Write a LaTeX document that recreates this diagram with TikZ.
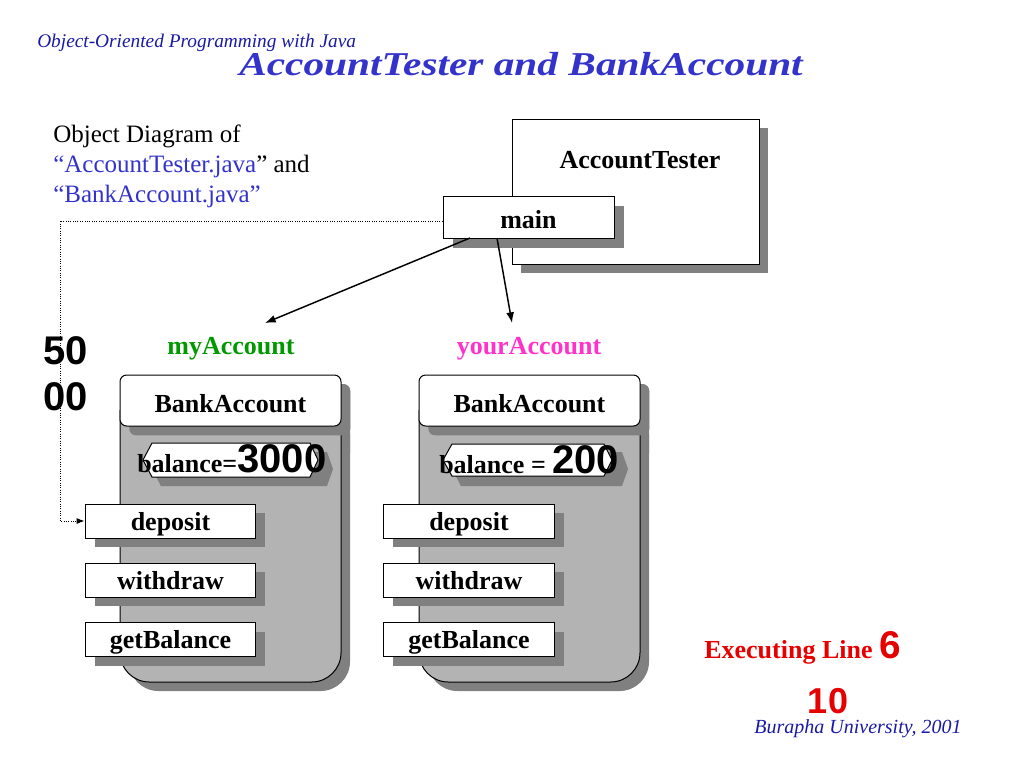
\documentclass[tikz,border=0pt]{standalone}
\usepackage{graphicx}
\usepackage{fontspec}
\setmainfont{Liberation Serif}
\newfontfamily\arial{Liberation Sans}
\usetikzlibrary{arrows.meta,shadows}
\definecolor{bodygray}{RGB}{179,179,179}
\definecolor{shadowgray}{RGB}{128,128,128}
\definecolor{titleblue}{RGB}{51,51,204}
\definecolor{subblue}{RGB}{26,26,166}
\definecolor{fileblue}{RGB}{51,51,204}
\definecolor{acgreen}{RGB}{0,153,0}
\definecolor{acmagenta}{RGB}{255,51,204}
\definecolor{exred}{RGB}{230,0,0}
\begin{document}
\begin{tikzpicture}[x=0.75pt,y=-0.75pt,
  lblfont/.style={font=\fontsize{19.5pt}{23pt}\selectfont\bfseries},
  lbl/.style={lblfont, inner sep=0pt},
  box/.style={draw=black, line width=0.75pt, fill=white, inner sep=0pt},
  shadowed/.style={drop shadow={shadow xshift=7pt, shadow yshift=-7pt, fill=shadowgray, opacity=1}},
  method/.style={box, shadowed, lblfont, minimum width=128pt, minimum height=25.5pt, text height=17.55pt, text depth=3.9pt},
  header/.style={box, shadowed, lblfont, rounded corners=5pt, minimum width=165.75pt, minimum height=38.25pt, text height=17.55pt, text depth=0pt},
  bodyline/.style={draw=black, line width=0.75pt},
  bignum/.style={font=\arial\fontsize{30pt}{32pt}\selectfont\bfseries},
  arr/.style={line width=1.1pt, -{Latex[length=8pt,width=6pt]}},
  dotarr/.style={line width=0.75pt, densely dotted, -{Latex[length=6pt,width=4.5pt]}}
]
\useasboundingbox (0,0) rectangle (1024,768);
\fill[white] (0,0) rectangle (1024,768);

% titles
\node[anchor=base west, inner sep=0pt, text=subblue, font=\fontsize{14.5pt}{17pt}\selectfont\itshape] (sub) at (37,47) {Object-Oriented Programming with Java};
\node[anchor=base, inner sep=0pt, text=titleblue, font=\fontsize{25pt}{28pt}\selectfont\bfseries\itshape] (title) at (521,75) {\scalebox{1.24}[1]{AccountTester and BankAccount}};

% description
\node[anchor=base west, inner sep=0pt, font=\fontsize{18.75pt}{22pt}\selectfont] (d1) at (53,142) {Object Diagram of};
\node[anchor=base west, inner sep=0pt, font=\fontsize{18.75pt}{22pt}\selectfont] (d2) at (53,172) {\textcolor{fileblue}{“AccountTester.java}” and};
\node[anchor=base west, inner sep=0pt, font=\fontsize{18.75pt}{22pt}\selectfont, text=fileblue] (d3) at (53,202) {“BankAccount.java”};

% AccountTester
\node[box, drop shadow={shadow xshift=6.75pt, shadow yshift=-6.75pt, fill=shadowgray, opacity=1}, minimum width=185.25pt, minimum height=108.75pt] (tester) at (635.5,191.5) {};
\node[lbl] (testerlbl) at (640,160) {AccountTester};
\node[box, drop shadow={shadow xshift=7.5pt, shadow yshift=-7.5pt, fill=shadowgray, opacity=1}, lblfont, minimum width=128.25pt, minimum height=31.5pt, text height=17.55pt, text depth=0pt] (main) at (528.5,217) {main};

% labels
\node[lbl, text=acgreen] (myacc) at (231,349) {myAccount};
\node[lbl, text=acmagenta] (youracc) at (529,349) {yourAccount};
\node[bignum, inner sep=0pt] (n50) at (66,351) {50};
\node[bignum, inner sep=0pt] (n00) at (66,397) {00};

% ---------- left object ----------
\fill[shadowgray, rounded corners=22pt] (129,405) rectangle (350,691);
\fill[shadowgray, rounded corners=5pt] (129,384) rectangle (350,460);
\fill[bodygray, rounded corners=22pt] (120,400) rectangle (341,682);
\fill[bodygray] (120,410) rectangle (341,460);
\draw[bodyline, rounded corners=22pt] (120,410) -- (120,682) -- (341,682) -- (341,410);
\node[header] (hdrL) at (230.5,400.5) {BankAccount};
\fill[shadowgray] (152,452) -- (161,486) -- (327,486) -- (333,469) -- (327,452) -- cycle;
\fill[shadowgray] (152,469) -- (161,452) -- (161,486) -- cycle;
\draw[fill=white, line width=0.75pt] (143,460) -- (152,443) -- (310,443) -- (318,460) -- (310,477) -- (152,477) -- cycle;
\node[anchor=base west, inner sep=0pt, lblfont] (balL) at (137,472) {balance=\arial\fontsize{30pt}{32pt}\selectfont\bfseries 3000};
\node[method] (depL) at (170.5,521) {deposit};
\node[method] (witL) at (170.5,580) {withdraw};
\node[method] (getL) at (170.5,639.5) {getBalance};

% ---------- right object ----------
\fill[shadowgray, rounded corners=22pt] (428,405) rectangle (649,691);
\fill[shadowgray, rounded corners=5pt] (428,384) rectangle (649,460);
\fill[bodygray, rounded corners=22pt] (419,400) rectangle (640,682);
\fill[bodygray] (419,410) rectangle (640,460);
\draw[bodyline, rounded corners=22pt] (419,410) -- (419,682) -- (640,682) -- (640,410);
\node[header] (hdrR) at (529.5,400.5) {BankAccount};
\fill[shadowgray] (452,452) -- (461,486) -- (622,486) -- (628,469) -- (622,452) -- cycle;
\fill[shadowgray] (452,469) -- (461,452) -- (461,486) -- cycle;
\draw[fill=white, line width=0.75pt] (443,460) -- (452,444) -- (604,444) -- (612,460) -- (604,476) -- (452,476) -- cycle;
\node[anchor=base west, inner sep=0pt, lblfont] (balR) at (439,473) {balance = \arial\fontsize{30pt}{32pt}\selectfont\bfseries 200};
\node[method] (depR) at (469,521) {deposit};
\node[method] (witR) at (469,580) {withdraw};
\node[method] (getR) at (469,639.5) {getBalance};

% connectors
\coordinate (m1) at (470,238);
\coordinate (m2) at (497,238);
\coordinate (t1) at (265,323);
\coordinate (t2) at (512,323);
\draw[arr] (m1) -- (t1);
\draw[arr] (m2) -- (t2);
\coordinate (c1) at (60,221);
\coordinate (c2) at (60,521);
\draw[dotarr] (main.west |- c1) -- (c1) -- (c2) -- (depL.west);

% footer
\node[anchor=base west, inner sep=0pt, lblfont, text=exred] (exec) at (704,658) {Executing Line {\arial\fontsize{29pt}{31pt}\selectfont\bfseries 6}};
\node[anchor=base, inner sep=0pt, text=exred, font=\arial\fontsize{27pt}{29pt}\selectfont\bfseries] (ten) at (828,713) {10};
\node[anchor=base, inner sep=0pt, text=subblue, font=\fontsize{15pt}{17pt}\selectfont\itshape] (bur) at (858,733) {Burapha University, 2001};
\end{tikzpicture}
\end{document}
